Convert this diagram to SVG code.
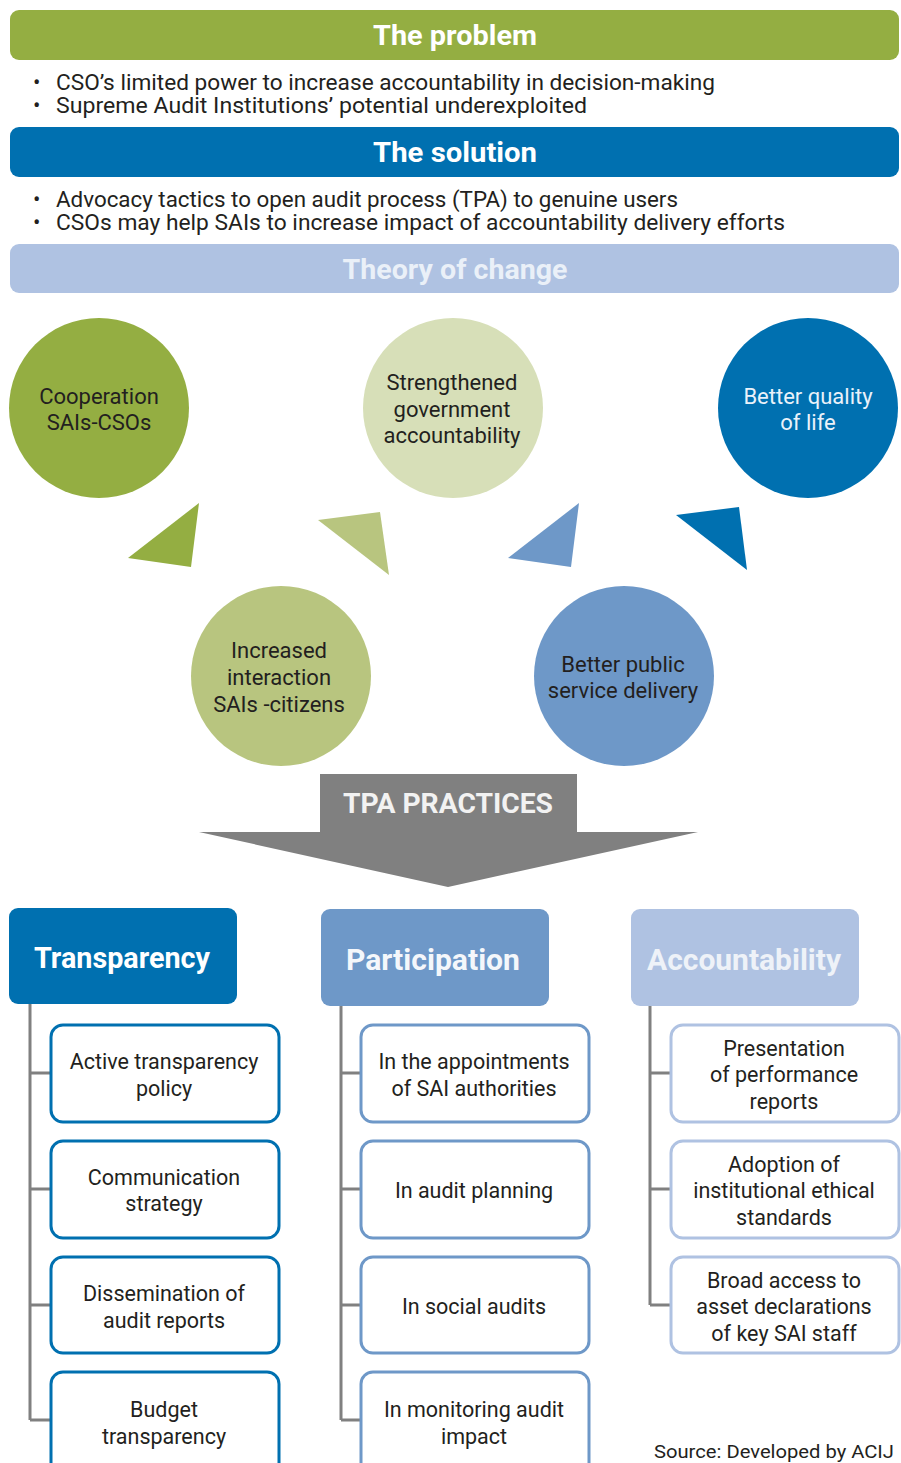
<svg xmlns="http://www.w3.org/2000/svg" width="901" height="1463" viewBox="0 0 901 1463">
<style>
text{font-family:Roboto,"Liberation Sans",sans-serif;}
.title{font-weight:bold;font-size:28px;fill:#ffffff;text-anchor:middle;}
.bul{font-size:22px;fill:#231F20;}
.ct{font-size:22px;fill:#231F20;text-anchor:middle;}
.cw{font-size:22px;fill:#EAF2FA;text-anchor:middle;}
.cat{font-weight:bold;font-size:29px;text-anchor:middle;}
.bx{font-size:21.5px;fill:#231F20;text-anchor:middle;}
.tb{fill:#fff;stroke:#0070B0;stroke-width:3;}
.pb{fill:#fff;stroke:#6E98C8;stroke-width:3;}
.ab{fill:#fff;stroke:#AFC2E2;stroke-width:3;}
.ln{stroke:#808080;stroke-width:3;fill:none;}
</style>
<rect width="901" height="1463" fill="#ffffff"/>

<g id="problem">
<rect x="10" y="10" width="889" height="50" rx="9" fill="#94AE42"/>
<text class="title" x="455" y="45" textLength="164" lengthAdjust="spacingAndGlyphs">The problem</text>
<text class="bul" x="33" y="90">•</text>
<text class="bul" x="56" y="90" textLength="659" lengthAdjust="spacingAndGlyphs">CSO’s limited power to increase accountability in decision-making</text>
<text class="bul" x="33" y="113">•</text>
<text class="bul" x="56" y="113" textLength="531" lengthAdjust="spacingAndGlyphs">Supreme Audit Institutions’ potential underexploited</text>
</g>

<g id="solution">
<rect x="10" y="127" width="889" height="50" rx="9" fill="#0070B0"/>
<text class="title" x="455" y="162" textLength="164" lengthAdjust="spacingAndGlyphs">The solution</text>
<text class="bul" x="33" y="207">•</text>
<text class="bul" x="56" y="207" textLength="622" lengthAdjust="spacingAndGlyphs">Advocacy tactics to open audit process (TPA) to genuine users</text>
<text class="bul" x="33" y="230">•</text>
<text class="bul" x="56" y="230" textLength="729" lengthAdjust="spacingAndGlyphs">CSOs may help SAIs to increase impact of accountability delivery efforts</text>
</g>

<g id="theory">
<rect x="10" y="244" width="889" height="49" rx="9" fill="#AFC2E2"/>
<text class="title" x="455" y="279" style="fill:#EAF0F8" textLength="225" lengthAdjust="spacingAndGlyphs">Theory of change</text>
</g>

<g id="cooperation">
<circle cx="99" cy="408" r="90" fill="#94AE42"/>
<text class="ct" x="99" y="404">Cooperation</text>
<text class="ct" x="99" y="430">SAIs-CSOs</text>
</g>
<g id="strengthened">
<circle cx="453" cy="408" r="90" fill="#D7DFB8"/>
<text class="ct" x="452" y="390">Strengthened</text>
<text class="ct" x="452" y="417">government</text>
<text class="ct" x="452" y="443">accountability</text>
</g>
<g id="quality">
<circle cx="808" cy="408" r="90" fill="#0070B0"/>
<text class="cw" x="808" y="404">Better quality</text>
<text class="cw" x="808" y="430">of life</text>
</g>
<g id="interaction">
<circle cx="281" cy="676" r="90" fill="#B8C57F"/>
<text class="ct" x="279" y="658">Increased</text>
<text class="ct" x="279" y="685">interaction</text>
<text class="ct" x="279" y="712">SAIs -citizens</text>
</g>
<g id="service">
<circle cx="624" cy="676" r="90" fill="#6E98C8"/>
<text class="ct" x="623" y="672">Better public</text>
<text class="ct" x="623" y="698">service delivery</text>
</g>

<g id="connectors">
<polygon points="199,503 128,558 191,567" fill="#94AE42"/>
<polygon points="318,520 380,512 389,575" fill="#B8C57F"/>
<polygon points="579,503 508,558 571,567" fill="#6E98C8"/>
<polygon points="676,515 739,507 747,570" fill="#0070B0"/>
<path class="ln" d="M30,1004 V1420 M30,1073 H51 M30,1189 H51 M30,1305 H51 M30,1420 H51"/>
<path class="ln" d="M341,1006 V1420 M341,1073 H361 M341,1189 H361 M341,1305 H361 M341,1420 H361"/>
<path class="ln" d="M650,1006 V1305 M650,1073 H671 M650,1189 H671 M650,1305 H671"/>
</g>

<g id="tpa">
<polygon points="320,774 577,774 577,832 698,832 448,887 199,832 320,832" fill="#808080"/>
<text x="448" y="813" text-anchor="middle" font-weight="bold" font-size="28" fill="#F2F2F2" textLength="210" lengthAdjust="spacingAndGlyphs">TPA PRACTICES</text>
</g>

<g id="transparency">
<rect x="9" y="908" width="228" height="96" rx="9" fill="#0070B0"/>
<text class="cat" x="122" y="968" fill="#FFFFFF" textLength="176" lengthAdjust="spacingAndGlyphs">Transparency</text>
</g>
<g id="participation">
<rect x="321" y="909" width="228" height="97" rx="9" fill="#6E98C8"/>
<text class="cat" x="433" y="970" fill="#F4F7FB" textLength="174" lengthAdjust="spacingAndGlyphs">Participation</text>
</g>
<g id="accountability">
<rect x="631" y="909" width="228" height="97" rx="9" fill="#AFC2E2"/>
<text class="cat" x="744" y="970" fill="#EEF2F8" textLength="194" lengthAdjust="spacingAndGlyphs">Accountability</text>
</g>

<g id="t1"><rect class="tb" x="51" y="1025" width="228" height="97" rx="12"/>
<text class="bx" x="164" y="1069">Active transparency</text><text class="bx" x="164" y="1096">policy</text></g>
<g id="t2"><rect class="tb" x="51" y="1141" width="228" height="97" rx="12"/>
<text class="bx" x="164" y="1185">Communication</text><text class="bx" x="164" y="1211">strategy</text></g>
<g id="t3"><rect class="tb" x="51" y="1257" width="228" height="96" rx="12"/>
<text class="bx" x="164" y="1301">Dissemination of</text><text class="bx" x="164" y="1328">audit reports</text></g>
<g id="t4"><rect class="tb" x="51" y="1372" width="228" height="110" rx="12"/>
<text class="bx" x="164" y="1417">Budget</text><text class="bx" x="164" y="1444">transparency</text></g>

<g id="p1"><rect class="pb" x="361" y="1025" width="228" height="97" rx="12"/>
<text class="bx" x="474" y="1069">In the appointments</text><text class="bx" x="474" y="1096">of SAI authorities</text></g>
<g id="p2"><rect class="pb" x="361" y="1141" width="228" height="97" rx="12"/>
<text class="bx" x="474" y="1198">In audit planning</text></g>
<g id="p3"><rect class="pb" x="361" y="1257" width="228" height="96" rx="12"/>
<text class="bx" x="474" y="1314">In social audits</text></g>
<g id="p4"><rect class="pb" x="361" y="1372" width="228" height="110" rx="12"/>
<text class="bx" x="474" y="1417">In monitoring audit</text><text class="bx" x="474" y="1444">impact</text></g>

<g id="a1"><rect class="ab" x="671" y="1025" width="228" height="97" rx="12"/>
<text class="bx" x="784" y="1056">Presentation</text><text class="bx" x="784" y="1082">of performance</text><text class="bx" x="784" y="1109">reports</text></g>
<g id="a2"><rect class="ab" x="671" y="1141" width="228" height="97" rx="12"/>
<text class="bx" x="784" y="1172">Adoption of</text><text class="bx" x="784" y="1198">institutional ethical</text><text class="bx" x="784" y="1225">standards</text></g>
<g id="a3"><rect class="ab" x="671" y="1257" width="228" height="96" rx="12"/>
<text class="bx" x="784" y="1288">Broad access to</text><text class="bx" x="784" y="1314">asset declarations</text><text class="bx" x="784" y="1341">of key SAI staff</text></g>

<text x="654" y="1458" font-size="18" fill="#231F20" textLength="240" lengthAdjust="spacingAndGlyphs">Source: Developed by ACIJ</text>
</svg>
